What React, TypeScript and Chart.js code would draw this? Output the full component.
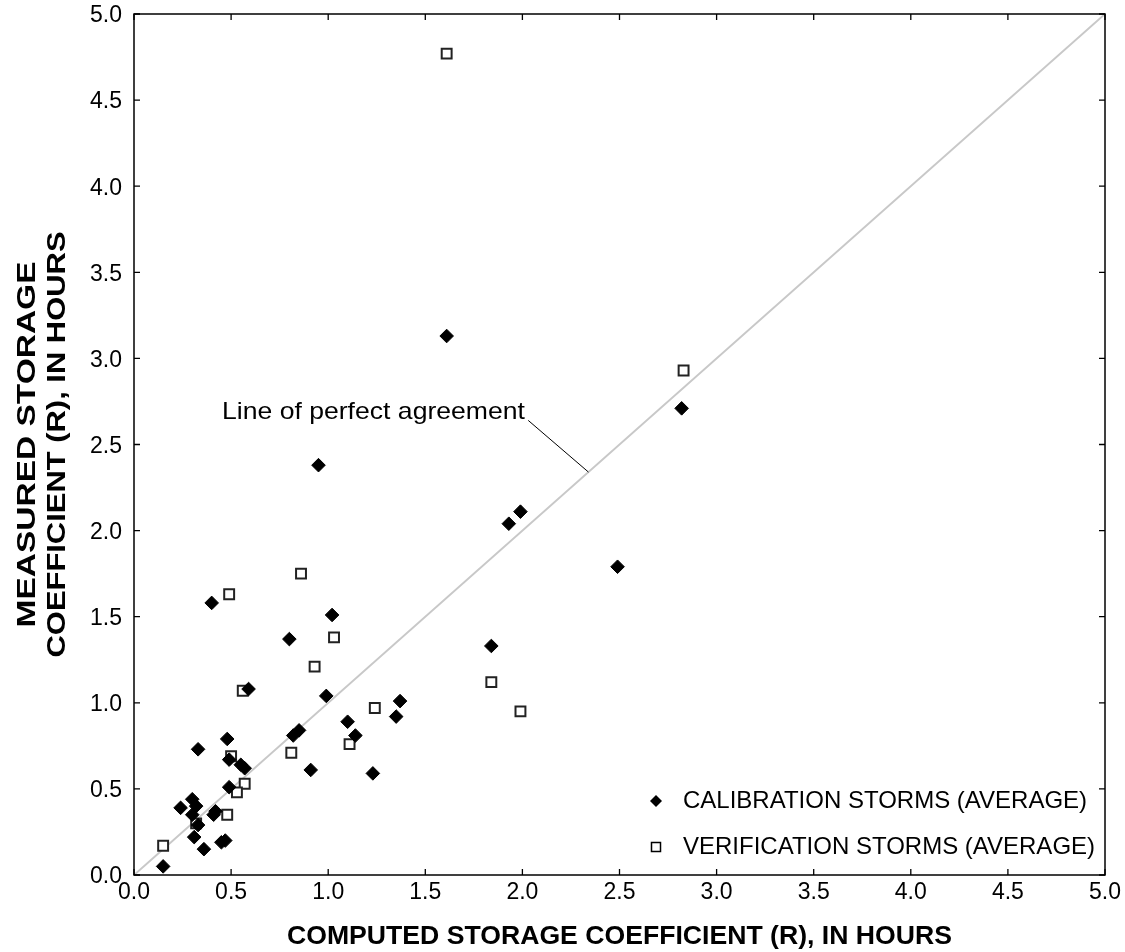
import React, { useEffect, useRef } from "react";
import { Chart, registerables } from "chart.js";

Chart.register(...registerables);

// ---- Data ----
const calibrationX = [1.61, 2.82, 0.95, 1.99, 1.93, 2.49, 0.40, 1.02, 0.80, 1.84, 0.59, 0.99, 1.37, 1.10, 1.14, 1.35, 0.85, 0.82, 0.91, 1.23, 0.33, 0.48, 0.49, 0.55, 0.57, 0.49, 0.41, 0.42, 0.30, 0.32, 0.24, 0.30, 0.33, 0.31, 0.36, 0.15, 0.45, 0.47];
const calibrationY = [3.13, 2.71, 2.38, 2.11, 2.04, 1.79, 1.58, 1.51, 1.37, 1.33, 1.08, 1.04, 1.01, 0.89, 0.81, 0.92, 0.84, 0.81, 0.61, 0.59, 0.73, 0.79, 0.67, 0.64, 0.62, 0.51, 0.35, 0.37, 0.44, 0.40, 0.39, 0.35, 0.29, 0.22, 0.15, 0.05, 0.19, 0.20];

const verificationX = [1.61, 2.83, 0.86, 0.49, 1.03, 0.93, 0.56, 1.24, 1.84, 1.99, 1.11, 0.81, 0.50, 0.57, 0.53, 0.48, 0.32, 0.15];
const verificationY = [4.77, 2.93, 1.75, 1.63, 1.38, 1.21, 1.07, 0.97, 1.12, 0.95, 0.76, 0.71, 0.69, 0.53, 0.48, 0.35, 0.30, 0.17];

const agreementX = [0, 5];
const agreementY = [0, 5];

const axisMin = 0;
const axisMax = 5;
const tickStep = 0.5;
const tickValues = [0, 0.5, 1, 1.5, 2, 2.5, 3, 3.5, 4, 4.5, 5];

const xTitle = "COMPUTED STORAGE COEFFICIENT (R), IN HOURS";
const yTitleLines = ["MEASURED STORAGE", "COEFFICIENT (R), IN HOURS"];
const legendLabels = ["CALIBRATION STORMS (AVERAGE)", "VERIFICATION STORMS (AVERAGE)"];
const annotationText = "Line of perfect agreement";
const annotationAnchor = { x: 0.453, y: 2.686 };
const leaderFrom = { x: 2.03, y: 2.64 };
const leaderTo = { x: 2.34, y: 2.34 };

const FONT = "'Liberation Sans', Arial, Helvetica, sans-serif";

const decorPlugin = {
  id: "decor",
  afterDraw(chart: any) {
    const ctx = chart.ctx as CanvasRenderingContext2D;
    const { left, right, top, bottom } = chart.chartArea;
    const xs = chart.scales.x;
    const ys = chart.scales.y;
    ctx.save();

    // frame
    ctx.strokeStyle = "#000";
    ctx.lineWidth = 1.5;
    ctx.strokeRect(left, top, right - left, bottom - top);

    // inward ticks on all four sides
    const tl = 6;
    ctx.lineWidth = 1.3;
    ctx.beginPath();
    for (const v of tickValues) {
      const px = xs.getPixelForValue(v);
      const py = ys.getPixelForValue(v);
      ctx.moveTo(px, bottom);
      ctx.lineTo(px, bottom - tl);
      ctx.moveTo(px, top);
      ctx.lineTo(px, top + tl);
      ctx.moveTo(left, py);
      ctx.lineTo(left + tl, py);
      ctx.moveTo(right, py);
      ctx.lineTo(right - tl, py);
    }
    ctx.stroke();

    ctx.fillStyle = "#000";

    // x title
    ctx.font = `bold 25px ${FONT}`;
    ctx.textAlign = "center";
    ctx.textBaseline = "middle";
    const xw = ctx.measureText(xTitle).width;
    ctx.save();
    ctx.translate((left + right) / 2, 937);
    ctx.scale(665 / xw, 1);
    ctx.fillText(xTitle, 0, 0);
    ctx.restore();

    // y title (two lines, rotated)
    const cy = (top + bottom) / 2;
    const yCols = [28, 58];
    const yLens = [366, 426];
    ctx.font = `bold 25px ${FONT}`;
    yTitleLines.forEach((line, i) => {
      const w = ctx.measureText(line).width;
      ctx.save();
      ctx.translate(yCols[i], cy);
      ctx.rotate(-Math.PI / 2);
      ctx.scale(yLens[i] / w, 1);
      ctx.fillText(line, 0, 0);
      ctx.restore();
    });

    // annotation
    ctx.font = `24px ${FONT}`;
    ctx.textAlign = "left";
    const aw = ctx.measureText(annotationText).width;
    const ax = xs.getPixelForValue(annotationAnchor.x);
    const ay = ys.getPixelForValue(annotationAnchor.y);
    ctx.save();
    ctx.translate(ax, ay);
    ctx.scale(303 / aw, 1);
    ctx.fillText(annotationText, 0, 0);
    ctx.restore();
    ctx.strokeStyle = "#000";
    ctx.lineWidth = 1;
    ctx.beginPath();
    ctx.moveTo(xs.getPixelForValue(leaderFrom.x), ys.getPixelForValue(leaderFrom.y));
    ctx.lineTo(xs.getPixelForValue(leaderTo.x), ys.getPixelForValue(leaderTo.y));
    ctx.stroke();

    // legend
    const lx = 656;
    const ly = [801, 847];
    ctx.fillStyle = "#000";
    ctx.beginPath();
    ctx.moveTo(lx - 6, ly[0]);
    ctx.lineTo(lx, ly[0] - 6);
    ctx.lineTo(lx + 6, ly[0]);
    ctx.lineTo(lx, ly[0] + 6);
    ctx.closePath();
    ctx.fill();
    ctx.lineWidth = 1.5;
    ctx.strokeStyle = "#000";
    ctx.fillStyle = "#fff";
    ctx.fillRect(lx - 4.5, ly[1] - 4.5, 9, 9);
    ctx.strokeRect(lx - 4.5, ly[1] - 4.5, 9, 9);
    ctx.fillStyle = "#000";
    ctx.font = `24px ${FONT}`;
    ctx.textAlign = "left";
    ctx.textBaseline = "middle";
    legendLabels.forEach((t, i) => ctx.fillText(t, 683, ly[i]));

    ctx.restore();
  },
};

export default function App() {
  const canvasRef = useRef<HTMLCanvasElement | null>(null);

  useEffect(() => {
    if (!canvasRef.current) return;
    const chart = new Chart(canvasRef.current, {
      type: "scatter",
      data: {
        datasets: [
          {
            label: legendLabels[0],
            data: calibrationX.map((x, i) => ({ x, y: calibrationY[i] })),
            pointStyle: "rectRot",
            pointRadius: 6.8,
            backgroundColor: "#000",
            borderColor: "#000",
            borderWidth: 1,
            clip: false,
            order: 1,
          } as any,
          {
            label: legendLabels[1],
            data: verificationX.map((x, i) => ({ x, y: verificationY[i] })),
            pointStyle: "rect",
            pointRadius: 7,
            backgroundColor: "#fff",
            borderColor: "#222",
            borderWidth: 2,
            clip: false,
            order: 2,
          } as any,
          {
            type: "line",
            label: "agreement",
            data: agreementX.map((x, i) => ({ x, y: agreementY[i] })),
            borderColor: "#c8c8c8",
            borderWidth: 2,
            pointRadius: 0,
            showLine: true,
            order: 3,
          } as any,
        ],
      },
      options: {
        animation: false,
        responsive: false,
        devicePixelRatio: 1,
        layout: { padding: { left: 0, top: 14, right: 20, bottom: 0 } },
        plugins: {
          legend: { display: false },
          tooltip: { enabled: false },
        },
        scales: {
          x: {
            type: "linear",
            min: axisMin,
            max: axisMax,
            afterBuildTicks: (s: any) => {
              s.ticks = tickValues.map((v) => ({ value: v }));
            },
            afterFit: (s: any) => {
              s.height = 77;
              s.paddingLeft = 0;
              s.paddingRight = 0;
            },
            ticks: {
              stepSize: tickStep,
              padding: 4,
              color: "#000",
              font: { family: FONT, size: 23 },
              maxRotation: 0,
              callback: (v: any) => Number(v).toFixed(1),
            },
            grid: { display: false, drawTicks: false },
            border: { display: false },
          },
          y: {
            type: "linear",
            min: axisMin,
            max: axisMax,
            afterBuildTicks: (s: any) => {
              s.ticks = tickValues.map((v) => ({ value: v }));
            },
            afterFit: (s: any) => {
              s.width = 134;
              s.paddingTop = 0;
              s.paddingBottom = 0;
            },
            ticks: {
              stepSize: tickStep,
              padding: 12,
              labelOffset: 2,
              color: "#000",
              font: { family: FONT, size: 23 },
              callback: (v: any) => Number(v).toFixed(1),
            },
            grid: { display: false, drawTicks: false },
            border: { display: false },
          },
        },
      },
      plugins: [decorPlugin],
    });
    return () => chart.destroy();
  }, []);

  return (
    <div style={{ position: "absolute", left: 0, top: 0, width: 1125, height: 952, background: "#fff" }}>
      <canvas ref={canvasRef} width={1125} height={952} style={{ width: 1125, height: 952, display: "block" }} />
    </div>
  );
}
